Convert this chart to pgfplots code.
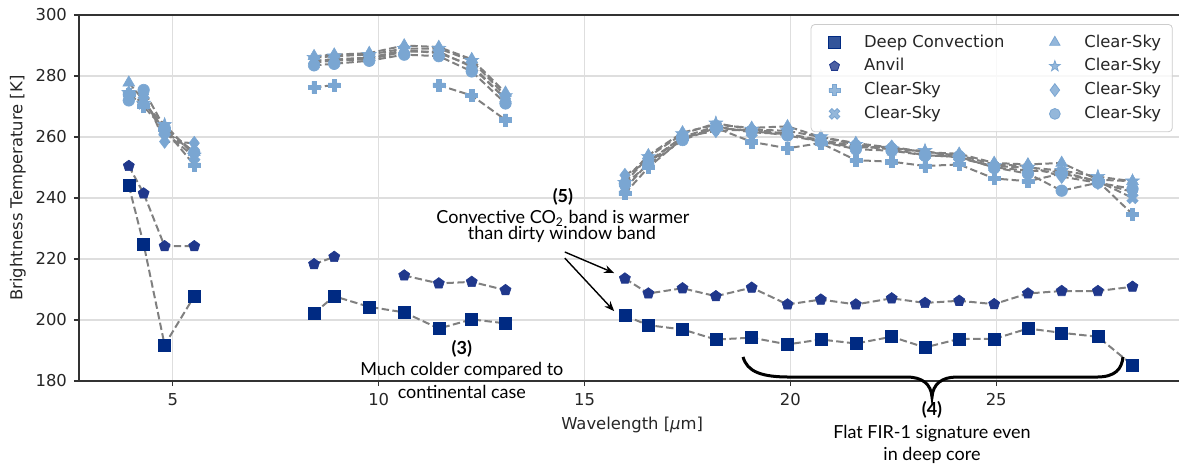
\documentclass[border=0pt]{standalone}
\usepackage{fontspec}
\setmainfont{DejaVu Sans}
\newfontfamily\annfont{Lato}
\usepackage{pgfplots}
\pgfplotsset{compat=1.18}
\usepackage{pgfplotstable}
\usetikzlibrary{arrows.meta}

\definecolor{dcc}{RGB}{0,42,130}
\definecolor{anc}{RGB}{32,56,140}
\definecolor{csc}{RGB}{122,166,210}
\definecolor{lnc}{RGB}{128,128,128}
\definecolor{grc}{RGB}{222,222,222}
\definecolor{spc}{RGB}{50,50,50}

\pgfdeclareplotmark{fplus}{%
 \pgfpathmoveto{\pgfqpoint{-\pgfplotmarksize}{0.36\pgfplotmarksize}}%
 \pgfpathlineto{\pgfqpoint{-0.36\pgfplotmarksize}{0.36\pgfplotmarksize}}%
 \pgfpathlineto{\pgfqpoint{-0.36\pgfplotmarksize}{\pgfplotmarksize}}%
 \pgfpathlineto{\pgfqpoint{0.36\pgfplotmarksize}{\pgfplotmarksize}}%
 \pgfpathlineto{\pgfqpoint{0.36\pgfplotmarksize}{0.36\pgfplotmarksize}}%
 \pgfpathlineto{\pgfqpoint{\pgfplotmarksize}{0.36\pgfplotmarksize}}%
 \pgfpathlineto{\pgfqpoint{\pgfplotmarksize}{-0.36\pgfplotmarksize}}%
 \pgfpathlineto{\pgfqpoint{0.36\pgfplotmarksize}{-0.36\pgfplotmarksize}}%
 \pgfpathlineto{\pgfqpoint{0.36\pgfplotmarksize}{-\pgfplotmarksize}}%
 \pgfpathlineto{\pgfqpoint{-0.36\pgfplotmarksize}{-\pgfplotmarksize}}%
 \pgfpathlineto{\pgfqpoint{-0.36\pgfplotmarksize}{-0.36\pgfplotmarksize}}%
 \pgfpathlineto{\pgfqpoint{-\pgfplotmarksize}{-0.36\pgfplotmarksize}}%
 \pgfpathclose
 \pgfusepathqfillstroke}
\pgfdeclareplotmark{fx}{%
 \pgftransformrotate{45}%
 \pgfpathmoveto{\pgfqpoint{-\pgfplotmarksize}{0.34\pgfplotmarksize}}%
 \pgfpathlineto{\pgfqpoint{-0.34\pgfplotmarksize}{0.34\pgfplotmarksize}}%
 \pgfpathlineto{\pgfqpoint{-0.34\pgfplotmarksize}{\pgfplotmarksize}}%
 \pgfpathlineto{\pgfqpoint{0.34\pgfplotmarksize}{\pgfplotmarksize}}%
 \pgfpathlineto{\pgfqpoint{0.34\pgfplotmarksize}{0.34\pgfplotmarksize}}%
 \pgfpathlineto{\pgfqpoint{\pgfplotmarksize}{0.34\pgfplotmarksize}}%
 \pgfpathlineto{\pgfqpoint{\pgfplotmarksize}{-0.34\pgfplotmarksize}}%
 \pgfpathlineto{\pgfqpoint{0.34\pgfplotmarksize}{-0.34\pgfplotmarksize}}%
 \pgfpathlineto{\pgfqpoint{0.34\pgfplotmarksize}{-\pgfplotmarksize}}%
 \pgfpathlineto{\pgfqpoint{-0.34\pgfplotmarksize}{-\pgfplotmarksize}}%
 \pgfpathlineto{\pgfqpoint{-0.34\pgfplotmarksize}{-0.34\pgfplotmarksize}}%
 \pgfpathlineto{\pgfqpoint{-\pgfplotmarksize}{-0.34\pgfplotmarksize}}%
 \pgfpathclose
 \pgfusepathqfillstroke}
\pgfdeclareplotmark{fstar}{%
 \pgfpathmoveto{\pgfqpoint{0pt}{\pgfplotmarksize}}%
 \pgfpathlineto{\pgfqpoint{-0.2351\pgfplotmarksize}{0.3236\pgfplotmarksize}}%
 \pgfpathlineto{\pgfqpoint{-0.9511\pgfplotmarksize}{0.309\pgfplotmarksize}}%
 \pgfpathlineto{\pgfqpoint{-0.3804\pgfplotmarksize}{-0.1236\pgfplotmarksize}}%
 \pgfpathlineto{\pgfqpoint{-0.5878\pgfplotmarksize}{-0.809\pgfplotmarksize}}%
 \pgfpathlineto{\pgfqpoint{0pt}{-0.4\pgfplotmarksize}}%
 \pgfpathlineto{\pgfqpoint{0.5878\pgfplotmarksize}{-0.809\pgfplotmarksize}}%
 \pgfpathlineto{\pgfqpoint{0.3804\pgfplotmarksize}{-0.1236\pgfplotmarksize}}%
 \pgfpathlineto{\pgfqpoint{0.9511\pgfplotmarksize}{0.309\pgfplotmarksize}}%
 \pgfpathlineto{\pgfqpoint{0.2351\pgfplotmarksize}{0.3236\pgfplotmarksize}}%
 \pgfpathclose
 \pgfusepathqfillstroke}

% Deep convection
\pgfplotstableread{
x y
3.93 244.0
4.29 224.9
4.80 191.8
5.52 207.8
7.00 nan
8.43 202.2
8.92 207.8
9.77 204.3
10.62 202.5
11.46 197.2
12.26 200.2
13.08 198.9
14.50 nan
15.98 201.4
16.55 198.3
17.38 196.9
18.19 193.6
19.06 194.2
19.93 192.0
20.74 193.6
21.59 192.3
22.46 194.5
23.27 191.0
24.10 193.8
24.95 193.8
25.77 197.2
26.59 195.8
27.47 194.5
28.31 185.2
}\dc
% Anvil
\pgfplotstableread{
x y
3.93 250.5
4.29 241.5
4.80 224.2
5.52 224.2
7.00 nan
8.43 218.3
8.92 220.7
9.77 nan
10.62 214.6
11.46 212.0
12.26 212.5
13.08 209.8
14.50 nan
15.98 213.6
16.55 208.7
17.38 210.4
18.19 207.8
19.06 210.6
19.93 205.1
20.74 206.7
21.59 205.1
22.46 207.1
23.27 205.6
24.10 206.3
24.95 205.2
25.77 208.7
26.59 209.5
27.47 209.5
28.31 210.9
}\anv
% Clear-sky (plus)
\pgfplotstableread{
x y
3.93 274.0
4.29 270.0
4.80 262.5
5.52 250.8
7.00 nan
8.43 276.3
8.92 277.0
9.77 nan
10.62 nan
11.46 277.0
12.26 273.6
13.08 265.6
14.50 nan
15.98 241.5
16.55 250.0
17.38 259.5
18.19 263.0
19.06 258.4
19.93 256.3
20.74 258.0
21.59 252.4
22.46 251.9
23.27 250.5
24.10 251.0
24.95 246.4
25.77 245.5
26.59 248.0
27.47 245.5
28.31 234.7
}\csp
% Clear-sky (x)
\pgfplotstableread{
x y
3.93 273.0
4.29 272.0
4.80 261.5
5.52 253.5
7.00 nan
8.43 285.0
8.92 285.5
9.77 286.0
10.62 288.5
11.46 287.5
12.26 283.5
13.08 272.5
14.50 nan
15.98 243.0
16.55 251.5
17.38 260.0
18.19 263.5
19.06 261.5
19.93 261.0
20.74 259.0
21.59 257.0
22.46 256.0
23.27 254.0
24.10 253.5
24.95 250.0
25.77 249.0
26.59 248.5
27.47 245.5
28.31 240.0
}\csx
% Clear-sky (triangle)
\pgfplotstableread{
x y
3.93 277.8
4.29 272.0
4.80 262.0
5.52 255.0
7.00 nan
8.43 286.5
8.92 287.0
9.77 287.5
10.62 290.0
11.46 289.5
12.26 285.5
13.08 274.5
14.50 nan
15.98 246.0
16.55 254.0
17.38 261.5
18.19 264.0
19.06 263.0
19.93 263.5
20.74 260.0
21.59 258.0
22.46 256.5
23.27 255.0
24.10 254.5
24.95 251.5
25.77 251.0
26.59 251.5
27.47 246.0
28.31 245.5
}\cst
% Clear-sky (star)
\pgfplotstableread{
x y
3.93 274.5
4.29 271.0
4.80 264.0
5.52 254.0
7.00 nan
8.43 286.0
8.92 286.5
9.77 287.0
10.62 289.0
11.46 289.0
12.26 285.0
13.08 273.5
14.50 nan
15.98 245.0
16.55 253.5
17.38 261.0
18.19 264.5
19.06 262.5
19.93 262.0
20.74 260.0
21.59 257.5
22.46 256.0
23.27 255.5
24.10 253.0
24.95 250.5
25.77 250.0
26.59 249.0
27.47 247.0
28.31 245.5
}\css
% Clear-sky (diamond)
\pgfplotstableread{
x y
3.93 274.4
4.29 274.0
4.80 258.5
5.52 258.0
7.00 nan
8.43 284.5
8.92 285.0
9.77 285.5
10.62 288.0
11.46 288.0
12.26 283.0
13.08 272.5
14.50 nan
15.98 247.5
16.55 252.0
17.38 260.0
18.19 262.0
19.06 262.5
19.93 261.0
20.74 258.5
21.59 256.5
22.46 256.8
23.27 255.0
24.10 254.0
24.95 251.0
25.77 250.5
26.59 247.0
27.47 245.0
28.31 242.0
}\csd
% Clear-sky (circle)
\pgfplotstableread{
x y
3.93 272.0
4.29 275.4
4.80 263.0
5.52 255.0
7.00 nan
8.43 283.5
8.92 284.0
9.77 285.0
10.62 287.0
11.46 286.5
12.26 281.5
13.08 271.0
14.50 nan
15.98 244.5
16.55 251.0
17.38 259.0
18.19 263.0
19.06 262.0
19.93 260.5
20.74 258.5
21.59 256.0
22.46 255.5
23.27 254.0
24.10 253.5
24.95 250.0
25.77 248.0
26.59 242.4
27.47 245.0
28.31 243.0
}\csc

\pgfplotsset{
 sline/.style={draw=lnc, line width=1pt, dash pattern=on 3.7pt off 1.7pt, mark=none, forget plot},
 smark/.style={only marks, forget plot},
}

\begin{document}
\begin{tikzpicture}
\begin{axis}[
 scale only axis, width=552pt, height=183pt,
 xmin=2.72, xmax=29.537, ymin=180, ymax=300,
 xtick={5,10,15,20,25}, ytick={180,200,...,300},
 grid=major, major grid style={grc, line width=0.6pt},
 axis line style={spc, line width=0.6pt},
 tick style={spc, line width=0.6pt},
 major tick length=2.5pt, tick align=outside, tick pos=left,
 ticklabel style={font=\fontsize{8.2}{9.8}\selectfont, text=black!85},
 /pgf/number format/assume math mode=true,
 xlabel={Wavelength [\textit{μ}m]},
 ylabel={Brightness Temperature [K]},
 label style={font=\fontsize{8.2}{9.8}\selectfont, text=black!85},
 xlabel style={at={(axis description cs:0.501,0)}, anchor=center, yshift=-22pt},
 ylabel style={at={(axis description cs:-0.0553,0.527)}, anchor=center},
 clip=false, unbounded coords=jump,
 legend columns=2,
 legend style={at={(0.9907,0.9754)}, anchor=north east, draw=black!20, rounded corners=2pt,
   fill=white, fill opacity=0.8, text opacity=1, inner sep=3pt,
   font=\fontsize{8.2}{9.8}\selectfont, text=black!85,
   nodes={inner ysep=2.1pt, inner xsep=2.6pt},
   /tikz/every even column/.append style={column sep=13.8pt}},
 legend cell align=left,
 legend image code/.code={\path (-0.3cm,0cm) (0.42cm,0cm); \draw[#1] plot coordinates {(0cm,0cm)};},
]
\coordinate (SW) at (rel axis cs:0,0);
\coordinate (NE) at (rel axis cs:1,1);

% Deep convection
\addplot[sline] table {\dc};
\addplot[smark, mark=square*, mark size=3pt, mark options={draw=dcc, fill=dcc, line width=0.3pt}] table {\dc};
% Anvil
\addplot[sline] table {\anv};
\addplot[smark, mark=pentagon*, mark size=2.9pt, mark options={draw=anc, fill=anc, line width=0.3pt}] table {\anv};
% Clear-sky series
\addplot[sline] table {\csp};
\addplot[smark, mark=fplus, mark size=3pt, mark options={draw=csc, fill=csc, line width=0.3pt}] table {\csp};
\addplot[sline] table {\csx};
\addplot[smark, mark=fx, mark size=3pt, mark options={draw=csc, fill=csc, line width=0.3pt}] table {\csx};
\addplot[sline] table {\cst};
\addplot[smark, mark=triangle*, mark size=3.4pt, mark options={draw=csc, fill=csc, line width=0.3pt}] table {\cst};
\addplot[sline] table {\css};
\addplot[smark, mark=fstar, mark size=3.6pt, mark options={draw=csc, fill=csc, line width=0.3pt}] table {\css};
\addplot[sline] table {\csd};
\addplot[smark, mark=diamond*, mark size=3.4pt, mark options={draw=csc, fill=csc, line width=0.3pt}] table {\csd};
\addplot[sline] table {\csc};
\addplot[smark, mark=*, mark size=2.9pt, mark options={draw=csc, fill=csc, line width=0.3pt}] table {\csc};

% legend (row-wise order for two columns)
\addlegendimage{only marks, mark=square*, mark size=3pt, mark options={draw=dcc, fill=dcc}}
\addlegendentry{Deep Convection}
\addlegendimage{only marks, mark=triangle*, mark size=3pt, mark options={draw=csc, fill=csc}}
\addlegendentry{Clear-Sky}
\addlegendimage{only marks, mark=pentagon*, mark size=2.6pt, mark options={draw=anc, fill=anc}}
\addlegendentry{Anvil}
\addlegendimage{only marks, mark=fstar, mark size=2.8pt, mark options={draw=csc, fill=csc}}
\addlegendentry{Clear-Sky}
\addlegendimage{only marks, mark=fplus, mark size=2.8pt, mark options={draw=csc, fill=csc}}
\addlegendentry{Clear-Sky}
\addlegendimage{only marks, mark=diamond*, mark size=3.2pt, mark options={draw=csc, fill=csc}}
\addlegendentry{Clear-Sky}
\addlegendimage{only marks, mark=fx, mark size=2.8pt, mark options={draw=csc, fill=csc}}
\addlegendentry{Clear-Sky}
\addlegendimage{only marks, mark=*, mark size=2.7pt, mark options={draw=csc, fill=csc}}
\addlegendentry{Clear-Sky}

% annotations
\node[font=\annfont\bfseries\fontsize{9}{11}\selectfont] at (axis cs:14.475,240.4) {(5)};
\node[font=\annfont\fontsize{9}{11}\selectfont] at (axis cs:14.475,233.4) {Convective CO\textsubscript{2} band is warmer};
\node[font=\annfont\fontsize{9}{11}\selectfont] at (axis cs:14.45,227.9) {than dirty window band};
\draw[-{Stealth[length=5pt,width=4pt]}, line width=0.7pt] (axis cs:14.52,222.3) -- (axis cs:15.72,215.4);
\draw[-{Stealth[length=5pt,width=4pt]}, line width=0.7pt] (axis cs:14.52,220.3) -- (axis cs:15.72,202.9);

\node[font=\annfont\bfseries\fontsize{9}{11}\selectfont] at (axis cs:12.02,190.7) {(3)};
\node[font=\annfont\fontsize{9}{11}\selectfont] at (axis cs:12.02,183.6) {Much colder compared to};
\node[font=\annfont\fontsize{9}{11}\selectfont] at (axis cs:12.02,176.5) {continental case};

\draw[line width=1.5pt] (axis cs:18.85,187.9) .. controls (axis cs:18.95,183) and (axis cs:19.3,181.3) .. (axis cs:19.99,181.3)
  -- (axis cs:22.83,181.3) .. controls (axis cs:23.2,181.3) and (axis cs:23.42,179) .. (axis cs:23.44,174.7)
  .. controls (axis cs:23.46,179) and (axis cs:23.68,181.3) .. (axis cs:24.04,181.3)
  -- (axis cs:27.44,181.3) .. controls (axis cs:27.9,181.3) and (axis cs:28.05,184) .. (axis cs:28.08,187.9);

\node[font=\annfont\bfseries\fontsize{9}{11}\selectfont] at (axis cs:23.44,170.5) {(4)};
\node[font=\annfont\fontsize{9}{11}\selectfont] at (axis cs:23.44,162.9) {Flat FIR-1 signature even};
\node[font=\annfont\fontsize{9}{11}\selectfont] at (axis cs:23.44,155.7) {in deep core};
\end{axis}
\pgfresetboundingbox
\path ([xshift=-39.5pt,yshift=-42.5pt]SW) rectangle ([xshift=-2pt,yshift=7.5pt]NE);
\end{tikzpicture}
\end{document}
